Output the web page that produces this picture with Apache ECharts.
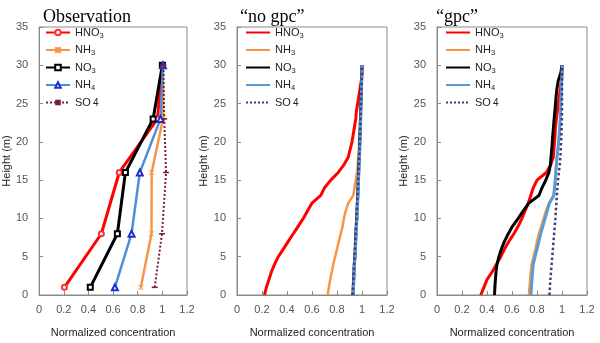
<!DOCTYPE html>
<html><head><meta charset="utf-8">
<script src="https://cdn.jsdelivr.net/npm/echarts@6/dist/echarts.min.js"></script>
<style>html,body{margin:0;padding:0;background:#fff}#c{width:600px;height:343px}</style>
</head><body><div id="c"></div>
<script>
// ---------- data ----------
const panelTitles = ['Observation', '\u201cno gpc\u201d', '\u201cgpc\u201d'];
const speciesNames = ['HNO3', 'NH3', 'NO3', 'NH4', 'SO4'];
const xTickValues = [0, 0.2, 0.4, 0.6, 0.8, 1, 1.2];
const yTickValues = [0, 5, 10, 15, 20, 25, 30, 35];

// Observation (measured heights)
const obsHeights = [1, 8, 16, 23, 30];
const obsHNO3 = [0.205, 0.505, 0.65, 0.96, 1.0];
const obsNH3  = [0.825, 0.912, 0.913, 1.005, 1.005];
const obsNO3  = [0.415, 0.635, 0.70, 0.925, 1.0];
const obsNH4  = [0.615, 0.75, 0.817, 0.985, 1.005];
const obsSO4  = [0.938, 0.997, 1.03, 1.015, 1.008];

// Model heights (m)
const modelHeights = [0,1,2,3,4,5,6,7,8,9,10,11,12,13,14,15,16,17,18,19,20,21,22,23,24,25,26,27,28,29,30];

// "no gpc"
const noGpcHNO3 = [0.22,0.235,0.255,0.275,0.30,0.33,0.37,0.41,0.45,0.49,0.53,0.565,0.60,0.67,0.70,0.75,0.81,0.855,0.89,0.905,0.92,0.93,0.94,0.95,0.955,0.965,0.975,0.985,0.995,1.0,1.0];
const noGpcNH3  = [0.725,0.735,0.745,0.758,0.77,0.785,0.80,0.815,0.83,0.845,0.855,0.87,0.89,0.93,0.94,0.95,0.96,0.966,0.97,0.974,0.977,0.98,0.983,0.986,0.988,0.99,0.993,0.995,0.997,0.999,1.0];
const noGpcNO3  = [0.928,0.93,0.933,0.936,0.938,0.943,0.946,0.948,0.951,0.954,0.958,0.96,0.963,0.966,0.968,0.97,0.973,0.975,0.978,0.98,0.982,0.984,0.986,0.988,0.989,0.991,0.993,0.994,0.996,0.998,1.0];
const noGpcNH4  = [0.93,0.932,0.935,0.938,0.94,0.945,0.948,0.95,0.953,0.956,0.96,0.962,0.965,0.968,0.97,0.972,0.975,0.977,0.98,0.982,0.984,0.986,0.988,0.99,0.991,0.993,0.995,0.996,0.998,0.999,1.0];
const noGpcSO4  = [0.925,0.928,0.931,0.934,0.937,0.94,0.943,0.946,0.949,0.952,0.955,0.958,0.961,0.964,0.967,0.97,0.972,0.975,0.977,0.98,0.982,0.984,0.986,0.988,0.99,0.992,0.994,0.996,0.998,0.999,1.0];

// "gpc"
const gpcHNO3 = [0.35,0.375,0.40,0.44,0.475,0.51,0.54,0.575,0.615,0.65,0.68,0.705,0.73,0.75,0.77,0.80,0.875,0.91,0.93,0.935,0.94,0.945,0.948,0.955,0.962,0.97,0.978,0.988,0.995,1.0,1.005];
const gpcNH3  = [0.735,0.74,0.745,0.75,0.757,0.772,0.787,0.80,0.815,0.835,0.853,0.872,0.895,0.932,0.94,0.946,0.95,0.955,0.96,0.967,0.972,0.978,0.982,0.986,0.988,0.99,0.993,0.995,0.998,1.0,1.003];
const gpcNO3  = [0.46,0.463,0.467,0.472,0.48,0.495,0.515,0.54,0.57,0.605,0.65,0.69,0.735,0.815,0.84,0.87,0.895,0.907,0.912,0.918,0.922,0.927,0.932,0.937,0.943,0.948,0.953,0.96,0.97,0.99,1.0];
const gpcNH4  = [0.752,0.755,0.76,0.764,0.77,0.785,0.80,0.815,0.83,0.847,0.865,0.882,0.90,0.935,0.94,0.946,0.95,0.955,0.96,0.967,0.972,0.978,0.982,0.986,0.988,0.99,0.993,0.995,0.998,1.0,1.003];
const gpcSO4  = [0.90,0.903,0.907,0.912,0.917,0.922,0.927,0.932,0.937,0.942,0.947,0.951,0.955,0.959,0.963,0.968,0.975,0.982,0.987,0.99,0.993,0.995,0.997,0.999,1.0,1.0,1.0,1.0,1.0,1.0,1.0];

// ---------- chart ----------
const FONT = '"Liberation Sans", Arial, sans-serif';
const panels = [
  {heights: obsHeights, values: [obsHNO3, obsNH3, obsNO3, obsNH4, obsSO4]},
  {heights: modelHeights, values: [noGpcHNO3, noGpcNH3, noGpcNO3, noGpcNH4, noGpcSO4]},
  {heights: modelHeights, values: [gpcHNO3, gpcNH3, gpcNO3, gpcNH4, gpcSO4]}
];
const obsStyles = [
  {color: '#FF0000', width: 3, symbol: 'emptyCircle', symbolSize: 5, mcolor: '#FF3030'},
  {color: '#F79646', width: 2.5, symbol: 'path://M0,0L10,10M10,0L0,10M5,0L5,10', symbolSize: 5, mcolor: '#F79646'},
  {color: '#000000', width: 3, symbol: 'emptyRect', symbolSize: 5, mcolor: '#000000'},
  {color: '#4F8FD8', width: 2.5, symbol: 'emptyTriangle', symbolSize: 6, mcolor: '#1F2FD0'},
  {color: '#7B1F35', width: 2, symbol: 'rect', symbolSize: [6, 1.5], mcolor: '#7B1F35', type: 'dotted'}
];
const modelStyles = [
  {color: '#FF0000', width: 3},
  {color: '#F79646', width: 2.5},
  {color: '#000000', width: 3},
  {color: '#5B9BD5', width: 3},
  {color: '#3C3C7E', width: 2.5, type: 'dotted'}
];
const legendRich = {
  HNO3: '{n|HNO}{s|3}', NH3: '{n|NH}{s|3}', NO3: '{n|NO}{s|3}', NH4: '{n|NH}{s|4}', SO4: '{n|SO}{t|4}'
};

const grids = [], xAxes = [], yAxes = [], series = [], legends = [], titles = [];
const titleLefts = [38, 235, 431];
for (let p = 0; p < 3; p++) {
  const left = 37 + 200 * p;
  grids.push({left: left, top: 27, width: 150, height: 271, show: true, borderColor: '#8a8a8a', borderWidth: 1, backgroundColor: 'transparent'});
  xAxes.push({
    gridIndex: p, type: 'value', min: 0, max: 1.2, interval: 0.2,
    name: 'Normalized concentration', nameLocation: 'middle', nameGap: 32,
    nameTextStyle: {fontFamily: FONT, fontSize: 11, color: '#222'},
    axisLine: {show: true, lineStyle: {color: '#8a8a8a', width: 1}},
    axisTick: {show: true, inside: true, length: 4, lineStyle: {color: '#8a8a8a'}},
    axisLabel: {fontFamily: FONT, fontSize: 11, color: '#555', margin: 9,
      formatter: v => String(+v.toFixed(1))},
    splitLine: {show: false}
  });
  yAxes.push({
    gridIndex: p, type: 'value', min: 0, max: 35, interval: 5,
    name: 'Height (m)', nameLocation: 'middle', nameGap: 25,
    nameTextStyle: {fontFamily: FONT, fontSize: 11, color: '#222'},
    axisLine: {show: true, lineStyle: {color: '#8a8a8a', width: 1}},
    axisTick: {show: true, inside: true, length: 4, lineStyle: {color: '#8a8a8a'}},
    axisLabel: {fontFamily: FONT, fontSize: 11, color: '#555', margin: 11},
    splitLine: {show: false}
  });
  titles.push({
    text: panelTitles[p], left: titleLefts[p], top: 3,
    textStyle: {fontFamily: '"Liberation Serif", "Times New Roman", serif', fontSize: 18, fontWeight: 'normal', color: '#000'}
  });
  const names = [];
  const pd = panels[p];
  for (let s = 0; s < 5; s++) {
    const nm = speciesNames[s] + '|' + p;
    names.push(nm);
    const data = pd.heights.map((h, i) => [pd.values[s][i], h]);
    if (p === 0) {
      const st = obsStyles[s];
      series.push({
        name: nm, type: 'line', xAxisIndex: p, yAxisIndex: p, data: data,
        symbol: st.symbol, symbolSize: st.symbolSize, showSymbol: true,
        lineStyle: {color: st.color, width: st.width, type: st.type || 'solid'},
        itemStyle: {color: st.mcolor, borderColor: st.mcolor, borderWidth: s === 4 ? 0 : 1},
        emphasis: {disabled: true}, animation: false, z: 2 + s
      });
    } else {
      const st = modelStyles[s];
      series.push({
        name: nm, type: 'line', xAxisIndex: p, yAxisIndex: p, data: data,
        symbol: 'none', showSymbol: false,
        lineStyle: {color: st.color, width: st.width, type: st.type || 'solid'},
        itemStyle: {color: st.color},
        emphasis: {disabled: true}, animation: false, z: 2 + s
      });
    }
  }
  const lg = {
    data: names, orient: 'vertical', left: 45 + 200 * p, top: 27, padding: 0,
    itemWidth: 24, itemHeight: 7, itemGap: 5, selectedMode: false,
    formatter: n => legendRich[n.split('|')[0]],
    textStyle: {
      fontFamily: FONT, fontSize: 11, color: '#222',
      rich: {
        n: {fontFamily: FONT, fontSize: 11, color: '#222', lineHeight: 14},
        s: {fontFamily: FONT, fontSize: 7.5, color: '#222', padding: [6, 0, 0, 0]},
        t: {fontFamily: FONT, fontSize: 10, color: '#222', padding: [2, 0, 0, 2]}
      }
    }
  };
  if (p > 0) lg.itemStyle = {opacity: 0};
  legends.push(lg);
}

const chart = echarts.init(document.getElementById('c'), null, {renderer: 'canvas'});
chart.setOption({
  animation: false,
  backgroundColor: '#fff',
  title: titles, grid: grids, xAxis: xAxes, yAxis: yAxes, legend: legends, series: series
});
</script></body></html>
